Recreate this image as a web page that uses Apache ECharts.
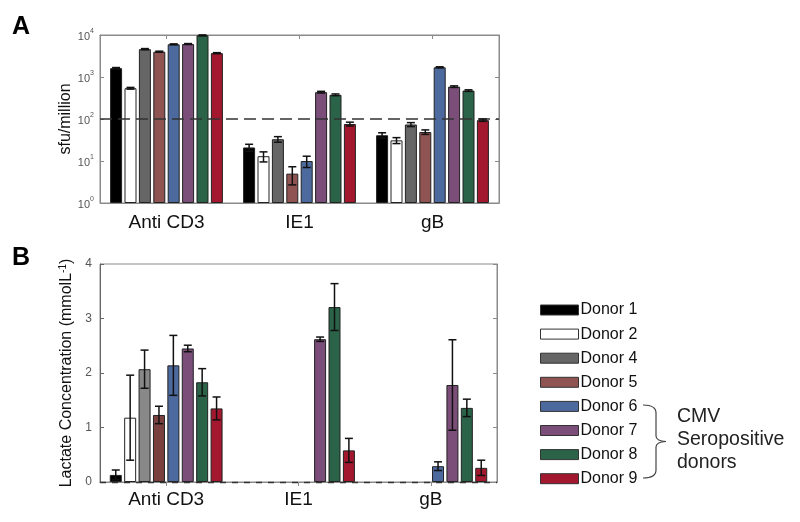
<!DOCTYPE html>
<html>
<head>
<meta charset="utf-8">
<script src="https://cdn.jsdelivr.net/npm/echarts@6/dist/echarts.min.js"></script>
<style>
html,body{margin:0;padding:0;background:#fff;}
#chart{width:800px;height:522px;}
</style>
</head>
<body>
<div id="chart"></div>
<script>
// ---------- data ----------
const categories = ['Anti CD3', 'IE1', 'gB'];
const donors = ['Donor 1', 'Donor 2', 'Donor 4', 'Donor 5', 'Donor 6', 'Donor 7', 'Donor 8', 'Donor 9'];
const donorColors = ['#000000', '#ffffff', '#666666', '#8f5452', '#4d6a9e', '#7a4e78', '#2a6347', '#a3182f'];
const lactateColors = ['#000000', '#ffffff', '#888888', '#7a403e', '#4d6a9e', '#7a4e78', '#2a6347', '#a3182f'];

// Panel A: sfu/million (rows = donors, columns = categories)
const sfuMean = [
  [1620, 21, 41],
  [540, 13, 31],
  [4600, 33, 74],
  [4000, 5, 49],
  [6000, 10, 1700],
  [6100, 436, 590],
  [9800, 377, 475],
  [3700, 76, 94]
];
const sfuErr = [
  [60, 4, 6],
  [25, 3.5, 5],
  [150, 5, 8],
  [120, 2.3, 6],
  [150, 3, 50],
  [150, 20, 25],
  [250, 18, 20],
  [100, 8, 6]
];
const sfuThreshold = 100;

// Panel B: lactate concentration (mmol/L)
const lactateMean = [
  [0.13, null, null],
  [1.18, null, null],
  [2.07, null, null],
  [1.23, null, null],
  [2.14, null, 0.29],
  [2.45, 2.62, 1.78],
  [1.83, 3.21, 1.36],
  [1.35, 0.58, 0.26]
];
const lactateErr = [
  [0.09, 0, 0],
  [0.78, 0, 0],
  [0.35, 0, 0],
  [0.16, 0, 0],
  [0.55, 0, 0.08],
  [0.06, 0.04, 0.83],
  [0.25, 0.43, 0.16],
  [0.21, 0.22, 0.14]
];
const logTicks = ['10^0', '10^1', '10^2', '10^3', '10^4'];

// ---------- chart ----------
const chart = echarts.init(document.getElementById('chart'), null, {renderer: 'canvas'});
const BAR_W = 12, GAP_FRAC = 0.2, NB = donors.length;

function errRender(params, api) {
  const c = api.value(0);
  const d = api.value(3);
  const gap = BAR_W * GAP_FRAC;
  const total = NB * BAR_W + (NB - 1) * gap;
  const off = -total / 2 + d * (BAR_W + gap) + BAR_W / 2;
  const lo = api.coord([c, api.value(1)]);
  const hi = api.coord([c, api.value(2)]);
  const x = lo[0] + off;
  const cw = 4;
  const st = {stroke: '#111', lineWidth: 1.5};
  return {
    type: 'group',
    children: [
      {type: 'line', shape: {x1: x, y1: lo[1], x2: x, y2: hi[1]}, style: st},
      {type: 'line', shape: {x1: x - cw, y1: lo[1], x2: x + cw, y2: lo[1]}, style: st},
      {type: 'line', shape: {x1: x - cw, y1: hi[1], x2: x + cw, y2: hi[1]}, style: st}
    ]
  };
}

const errA = [], errB = [];
for (let d = 0; d < NB; d++) {
  for (let c = 0; c < categories.length; c++) {
    const m = sfuMean[d][c], e = sfuErr[d][c];
    if (m != null) errA.push([c, Math.max(m - e, 1), m + e, d]);
    const l = lactateMean[d][c], le = lactateErr[d][c];
    if (l != null) errB.push([c, Math.max(l - le, 0), l + le, d]);
  }
}

const series = [];
donors.forEach((name, d) => {
  series.push({
    name: name, type: 'bar', xAxisIndex: 0, yAxisIndex: 0,
    barWidth: BAR_W, barGap: (GAP_FRAC * 100) + '%',
    itemStyle: {color: donorColors[d], borderColor: '#222', borderWidth: 1},
    data: sfuMean[d]
  });
});
donors.forEach((name, d) => {
  series.push({
    name: name, type: 'bar', xAxisIndex: 2, yAxisIndex: 2,
    barWidth: BAR_W, barGap: (GAP_FRAC * 100) + '%',
    itemStyle: {color: lactateColors[d], borderColor: '#222', borderWidth: 1},
    data: lactateMean[d].map(v => v == null ? '-' : v)
  });
});
series.push({
  type: 'custom', xAxisIndex: 0, yAxisIndex: 0, z: 5,
  renderItem: errRender, data: errA,
  markLine: {
    silent: true, symbol: 'none', label: {show: false},
    lineStyle: {type: [12, 6], color: '#333', width: 1.5},
    data: [{yAxis: sfuThreshold}]
  }
});
series.push({
  type: 'custom', xAxisIndex: 2, yAxisIndex: 2, z: 5,
  renderItem: errRender, data: errB,
  markLine: {
    silent: true, symbol: 'none', label: {show: false},
    lineStyle: {type: [6, 6], color: '#333', width: 1.3},
    data: [{yAxis: 0}]
  }
});

const frame = '#8a8a8a';
const catAxisBottom = (grid, margin) => ({
  type: 'category', gridIndex: grid, data: categories, position: 'bottom',
  axisLine: {show: true, lineStyle: {color: frame}},
  axisTick: {show: false},
  axisLabel: {fontSize: 19, color: '#111', margin: margin, fontFamily: 'Liberation Sans'}
});
const catAxisTop = (grid) => ({
  type: 'category', gridIndex: grid, data: categories, position: 'top',
  axisLine: {show: true, lineStyle: {color: frame}},
  axisTick: {show: true, inside: true, alignWithLabel: true, length: 4, lineStyle: {color: frame}},
  axisLabel: {show: false}
});

const bs = {fill: 'none', stroke: '#444', lineWidth: 1.2};
const option = {
  animation: false,
  backgroundColor: '#fff',
  textStyle: {fontFamily: 'Liberation Sans'},
  grid: [
    {left: 100, top: 35, width: 399, height: 168, show: true, borderColor: frame, borderWidth: 1},
    {left: 100, top: 264, width: 397, height: 218, show: true, borderColor: frame, borderWidth: 1}
  ],
  xAxis: [catAxisBottom(0, 10), catAxisTop(0), catAxisBottom(1, 8), catAxisTop(1)],
  yAxis: [
    {
      type: 'log', gridIndex: 0, logBase: 10, min: 1, max: 10000, position: 'left',
      name: 'sfu/million', nameLocation: 'middle', nameGap: 26,
      nameTextStyle: {fontSize: 16, color: '#111'},
      axisLine: {show: true, lineStyle: {color: frame}},
      axisTick: {show: true, inside: true, length: 4, lineStyle: {color: frame}},
      splitLine: {show: false},
      axisLabel: {
        margin: 6, color: '#555',
        formatter: v => {
          const t = logTicks[Math.round(Math.log10(v))] || '';
          const p = t.split('^');
          return '{b|' + p[0] + '}{s|' + p[1] + '}';
        },
        rich: {
          b: {fontSize: 11, color: '#555', verticalAlign: 'bottom'},
          s: {fontSize: 7, color: '#555', verticalAlign: 'bottom', padding: [0, 0, 7, 0]}
        }
      }
    },
    {
      type: 'log', gridIndex: 0, logBase: 10, min: 1, max: 10000, position: 'right',
      axisLine: {show: true, lineStyle: {color: frame}},
      axisTick: {show: true, inside: true, length: 4, lineStyle: {color: frame}},
      splitLine: {show: false}, axisLabel: {show: false}
    },
    {
      type: 'value', gridIndex: 1, min: 0, max: 4, interval: 1, position: 'left',
      name: '{a|Lactate Concentration (mmolL}{s|-1}{a|)}', nameLocation: 'middle', nameGap: 25,
      nameTextStyle: {
        rich: {
          a: {fontSize: 16, color: '#111', verticalAlign: 'bottom'},
          s: {fontSize: 10, color: '#111', verticalAlign: 'bottom', padding: [0, 0, 7, 0]}
        }
      },
      axisLine: {show: true, lineStyle: {color: '#666'}},
      axisTick: {show: true, inside: true, length: 4, lineStyle: {color: '#666'}},
      splitLine: {show: false},
      axisLabel: {fontSize: 12, color: '#555', margin: 8}
    },
    {
      type: 'value', gridIndex: 1, min: 0, max: 4, interval: 1, position: 'right',
      axisLine: {show: true, lineStyle: {color: frame}},
      axisTick: {show: true, inside: true, length: 4, lineStyle: {color: frame}},
      splitLine: {show: false}, axisLabel: {show: false}
    }
  ],
  legend: {
    data: donors, orient: 'vertical', left: 535, top: 297,
    icon: 'rect', itemWidth: 38, itemHeight: 10, itemGap: 8.1,
    itemStyle: {borderWidth: 1, borderColor: '#333'},
    textStyle: {fontSize: 16, color: '#111', lineHeight: 16, padding: [0, 0, 0, -3]},
    selectedMode: false
  },
  graphic: [
    {type: 'text', left: 12, top: 15, style: {text: 'A', font: 'bold 25px Liberation Sans', fill: '#000'}},
    {type: 'text', left: 12, top: 246, style: {text: 'B', font: 'bold 25px Liberation Sans', fill: '#000'}},
    {type: 'bezierCurve', shape: {x1: 643, y1: 405, x2: 656, y2: 413, cpx1: 656, cpy1: 405}, style: bs},
    {type: 'line', shape: {x1: 656, y1: 413, x2: 656, y2: 436}, style: bs},
    {type: 'bezierCurve', shape: {x1: 656, y1: 436, x2: 666, y2: 441.5, cpx1: 656, cpy1: 441}, style: bs},
    {type: 'bezierCurve', shape: {x1: 666, y1: 441.5, x2: 656, y2: 447, cpx1: 656, cpy1: 442}, style: bs},
    {type: 'line', shape: {x1: 656, y1: 447, x2: 656, y2: 470}, style: bs},
    {type: 'bezierCurve', shape: {x1: 656, y1: 470, x2: 643, y2: 478, cpx1: 656, cpy1: 478}, style: bs},
    {type: 'text', left: 677, top: 407, style: {text: 'CMV', font: '19.5px Liberation Sans', fill: '#222'}},
    {type: 'text', left: 677, top: 430, style: {text: 'Seropositive', font: '19.5px Liberation Sans', fill: '#222'}},
    {type: 'text', left: 677, top: 453, style: {text: 'donors', font: '19.5px Liberation Sans', fill: '#222'}}
  ],
  series: series
};
chart.setOption(option);
</script>
</body>
</html>
